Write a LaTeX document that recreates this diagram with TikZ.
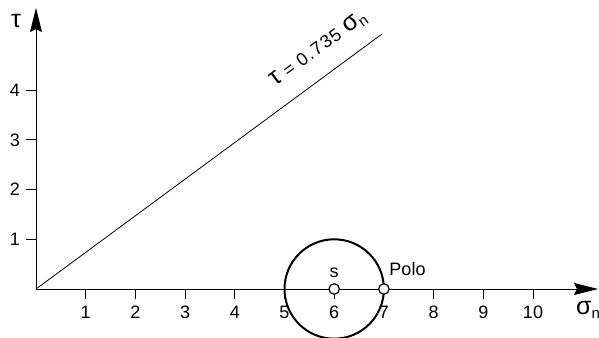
\documentclass[tikz,border=0pt]{standalone}
\usepackage{fontspec}
\setmainfont{Liberation Sans}
\newfontfamily\eqfont[LetterSpace=8]{Liberation Sans}
\newcommand{\gk}[1]{{\fontsize{25}{26}\selectfont #1}}
\newcommand{\sbn}{\raisebox{-4pt}{\fontsize{15}{15}\selectfont n}}
\usetikzlibrary{arrows.meta}
\begin{document}
\begin{tikzpicture}[x=49.7pt,y=49.7pt, font=\fontsize{18}{20}\selectfont,
  axis/.style={line width=0.9pt, -{Stealth[length=24pt,width=12pt,inset=3pt]}},
  tickmark/.style={line width=0.9pt},
  lbl/.style={inner sep=0pt},
  hole/.style={circle, draw, fill=white, line width=1.2pt, minimum size=10.5pt, inner sep=0pt},
]
\useasboundingbox (-36pt,-48pt) rectangle (563pt,289pt);
\coordinate (O) at (0,0);
\coordinate (XE) at (562pt,0);
\coordinate (YE) at (0,281pt);
\coordinate (LE) at (346pt,255pt);
\draw[axis] (O) -- (XE);
\draw[axis] (O) -- (YE);
\foreach \i in {1,...,10}{
  \coordinate (xt\i) at (\i,0);
  \coordinate (xb\i) at (\i,-10pt);
  \draw[tickmark] (xt\i) -- (xb\i);
  \node[lbl, anchor=base] (xl\i) at (\i,-29pt) {\i};
}
\foreach \i in {1,...,4}{
  \coordinate (yt\i) at (0,\i);
  \coordinate (yb\i) at (-10pt,\i);
  \draw[tickmark] (yt\i) -- (yb\i);
  \node[lbl, anchor=east] (yl\i) at (-16pt,\i) {\i};
}
\draw[line width=0.8pt] (O) -- (LE);
\node[lbl, rotate=36.3, anchor=base west] (eq) at (239pt,202pt) {\eqfont\gk{τ} = 0.735 \gk{σ}\sbn};
\draw[line width=2pt] (6,0) circle (1);
\node[hole] (S) at (6,0) {};
\node[hole] (P) at (7,0) {};
\node[lbl, anchor=base] (sl) at (6,11pt) {s};
\node[lbl, anchor=base] (pl) at (371.5pt,13pt) {Polo};
\node[lbl, anchor=base west] (tl) at (-25pt,261pt) {\gk{τ}};
\node[lbl, anchor=base west] (sg) at (540pt,-26pt) {\gk{σ}\sbn};
\end{tikzpicture}
\end{document}
